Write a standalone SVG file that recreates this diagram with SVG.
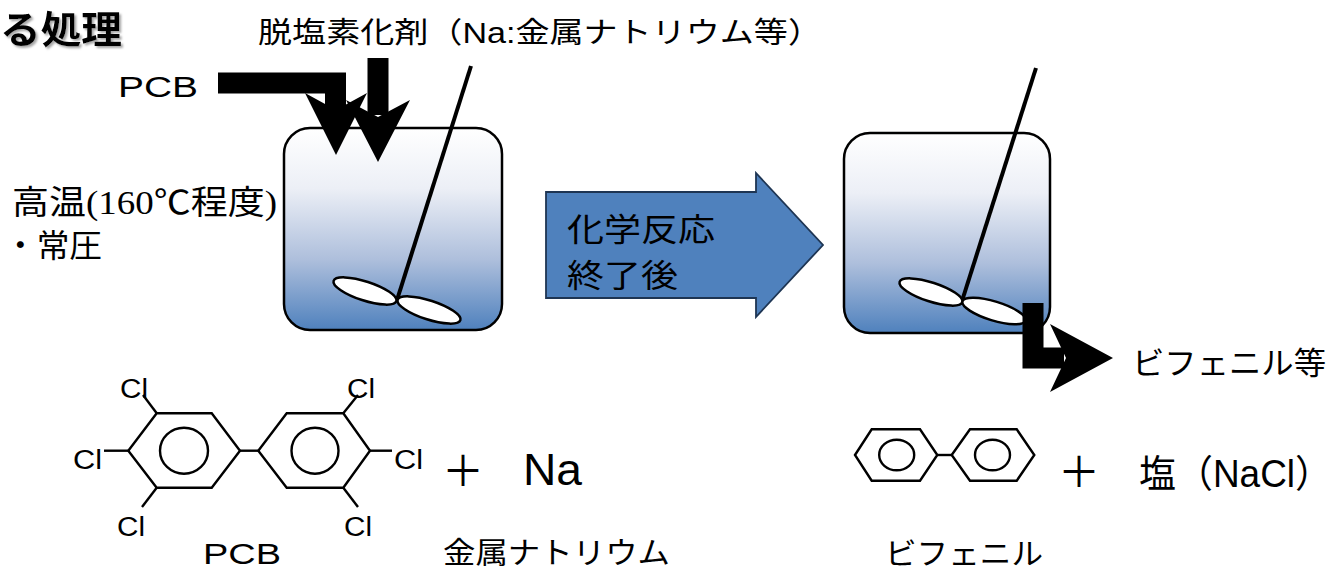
<svg xmlns="http://www.w3.org/2000/svg" width="1340" height="569" viewBox="0 0 1340 569">
  <defs>
    <linearGradient id="liquid" x1="0" y1="0" x2="0" y2="1">
      <stop offset="0" stop-color="#ffffff"/>
      <stop offset="0.3" stop-color="#eceff6"/>
      <stop offset="0.65" stop-color="#aebfdc"/>
      <stop offset="1" stop-color="#4f81bd"/>
    </linearGradient>
    <filter id="shadow" x="-10%" y="-20%" width="130%" height="150%">
      <feGaussianBlur in="SourceAlpha" stdDeviation="1.2" result="b"/>
      <feOffset in="b" dx="2" dy="2" result="o"/>
      <feFlood flood-color="#808080" flood-opacity="0.7"/>
      <feComposite in2="o" operator="in" result="s"/>
      <feMerge><feMergeNode in="s"/><feMergeNode in="SourceGraphic"/></feMerge>
    </filter>
  </defs>
  <style>
    .jp { font-family: "Liberation Sans", "Noto Sans CJK JP", sans-serif; fill: #000; }
    .serif { font-family: "Liberation Serif", "Noto Sans CJK JP", serif; fill: #000; }
    .vessel { fill: url(#liquid); stroke: #000; stroke-width: 2.5; }
    .shaft { stroke: #000; stroke-width: 4; stroke-linecap: butt; }
    .paddle { fill: #fff; stroke: #000; stroke-width: 2.5; }
    .bond { stroke: #000; stroke-width: 2.4; fill: none; stroke-linejoin: miter; }
    .pipe { fill: none; stroke: #000; stroke-width: 21; stroke-linejoin: miter; }
    .head { fill: #000; }
    .cl { font-family: "Liberation Sans", sans-serif; font-size: 27px; fill: #000; }
  </style>

  <!-- heading fragment -->
  <g id="title">
    <text class="jp" x="0" y="43" font-size="38" font-weight="700" textLength="122" lengthAdjust="spacingAndGlyphs" filter="url(#shadow)">る処理</text>
  </g>

  <!-- reagent label -->
  <g id="reagent-label">
    <text class="jp" x="258" y="43" font-size="29" textLength="564" lengthAdjust="spacingAndGlyphs">脱塩素化剤（Na:金属ナトリウム等）</text>
  </g>

  <!-- feed label -->
  <g id="feed-label">
    <text class="jp" x="118" y="97" font-size="30" textLength="80" lengthAdjust="spacingAndGlyphs">PCB</text>
  </g>

  <!-- reaction conditions -->
  <g id="conditions">
    <text class="serif" x="12" y="214" font-size="33" textLength="265" lengthAdjust="spacingAndGlyphs">高温(160℃程度)</text>
    <text class="jp" x="4" y="257" font-size="32" textLength="98" lengthAdjust="spacingAndGlyphs">・常圧</text>
  </g>

  <!-- reactor during reaction -->
  <g id="reactor-1">
    <rect class="vessel" x="284" y="128" width="218" height="202" rx="26" ry="26"/>
    <line class="shaft" x1="471" y1="66" x2="397" y2="300"/>
    <ellipse class="paddle" cx="365" cy="291" rx="33" ry="9.5" transform="rotate(18 365 291)"/>
    <ellipse class="paddle" cx="429" cy="310" rx="33" ry="9.5" transform="rotate(18 429 310)"/>
  </g>

  <!-- process step arrow -->
  <g id="step-arrow">
    <polygon points="546,192 756,192 756,173 823,245 756,317 756,298 546,298" fill="#4f81bd" stroke="#1e3553" stroke-width="1.8" stroke-linejoin="miter"/>
    <text class="jp" x="567" y="241" font-size="32" textLength="148" lengthAdjust="spacingAndGlyphs">化学反応</text>
    <text class="jp" x="567" y="287" font-size="32" textLength="111" lengthAdjust="spacingAndGlyphs">終了後</text>
  </g>

  <!-- reactor after reaction -->
  <g id="reactor-2">
    <rect class="vessel" x="844" y="133" width="206" height="200" rx="26" ry="26"/>
    <line class="shaft" x1="1036" y1="68" x2="962" y2="301"/>
    <ellipse class="paddle" cx="931" cy="292" rx="33" ry="9.5" transform="rotate(18 931 292)"/>
    <ellipse class="paddle" cx="994" cy="311" rx="33" ry="9.5" transform="rotate(17 994 311)"/>
  </g>

  <!-- feed and discharge lines -->
  <g id="connectors">
    <path class="pipe" d="M218,83 H335.5 V110"/>
    <polygon class="head" points="305,93 336,155 367,93 336,110"/>
    <path class="pipe" d="M378,58 V115"/>
    <polygon class="head" points="346,100 378,162 410,100 378,117"/>
    <path class="pipe" d="M1033,303 V358 H1064"/>
    <polygon class="head" points="1050,324 1113,358 1050,392 1066,358"/>
  </g>

  <!-- product label -->
  <g id="product-label">
    <text class="jp" x="1132" y="374" font-size="31" textLength="194" lengthAdjust="spacingAndGlyphs">ビフェニル等</text>
  </g>

  <!-- PCB structure -->
  <g id="pcb-structure">
    <polygon class="bond" points="128.3,450.7 156.7,413.3 211.7,413.3 240,450.7 211.7,487.7 156.7,487.7"/>
    <ellipse class="bond" cx="184" cy="450.7" rx="24" ry="23"/>
    <polygon class="bond" points="258.3,450.7 286.7,413.3 343.3,413.3 370,450.7 343.3,487.7 286.7,487.7"/>
    <ellipse class="bond" cx="315" cy="450.7" rx="23.5" ry="23"/>
    <line class="bond" x1="240" y1="450.7" x2="258.3" y2="450.7"/>
    <line class="bond" x1="156.7" y1="413.3" x2="143" y2="395"/>
    <line class="bond" x1="128.3" y1="450.7" x2="104" y2="450.7"/>
    <line class="bond" x1="156.7" y1="487.7" x2="142" y2="507"/>
    <line class="bond" x1="343.3" y1="413.3" x2="358" y2="395"/>
    <line class="bond" x1="370" y1="450.7" x2="392" y2="450.7"/>
    <line class="bond" x1="343.3" y1="487.7" x2="358" y2="507"/>
    <text class="cl" x="120" y="398" textLength="28" lengthAdjust="spacingAndGlyphs">Cl</text>
    <text class="cl" x="73" y="469" textLength="29" lengthAdjust="spacingAndGlyphs">Cl</text>
    <text class="cl" x="117" y="536" textLength="28" lengthAdjust="spacingAndGlyphs">Cl</text>
    <text class="cl" x="347" y="398" textLength="28" lengthAdjust="spacingAndGlyphs">Cl</text>
    <text class="cl" x="394" y="469" textLength="29" lengthAdjust="spacingAndGlyphs">Cl</text>
    <text class="cl" x="344" y="536" textLength="28" lengthAdjust="spacingAndGlyphs">Cl</text>
    <text class="jp" x="203" y="564" font-size="30" textLength="78" lengthAdjust="spacingAndGlyphs">PCB</text>
  </g>

  <!-- sodium reactant -->
  <g id="sodium">
    <text class="jp" x="442" y="486" font-size="42">＋</text>
    <text class="jp" x="523" y="485" font-size="44" textLength="59" lengthAdjust="spacingAndGlyphs">Na</text>
    <text class="jp" x="443" y="563" font-size="30" textLength="227" lengthAdjust="spacingAndGlyphs">金属ナトリウム</text>
  </g>

  <!-- biphenyl structure -->
  <g id="biphenyl-structure">
    <polygon class="bond" points="855,455 871.7,429.3 920,429.3 937.3,455 920,480.7 871.7,480.7"/>
    <ellipse class="bond" cx="896.7" cy="455" rx="17.5" ry="15.3"/>
    <polygon class="bond" points="951.7,455 970,429.3 1016.7,429.3 1034.3,455 1016.7,480.7 970,480.7"/>
    <ellipse class="bond" cx="992.5" cy="455" rx="17.5" ry="15.3"/>
    <line class="bond" x1="937.3" y1="455" x2="951.7" y2="455"/>
    <text class="jp" x="885" y="564" font-size="30" textLength="158" lengthAdjust="spacingAndGlyphs">ビフェニル</text>
  </g>

  <!-- salt product -->
  <g id="salt">
    <text class="jp" x="1058" y="487" font-size="42">＋</text>
    <text class="jp" x="1139" y="487" font-size="38" textLength="193" lengthAdjust="spacingAndGlyphs">塩（NaCl）</text>
  </g>
</svg>
